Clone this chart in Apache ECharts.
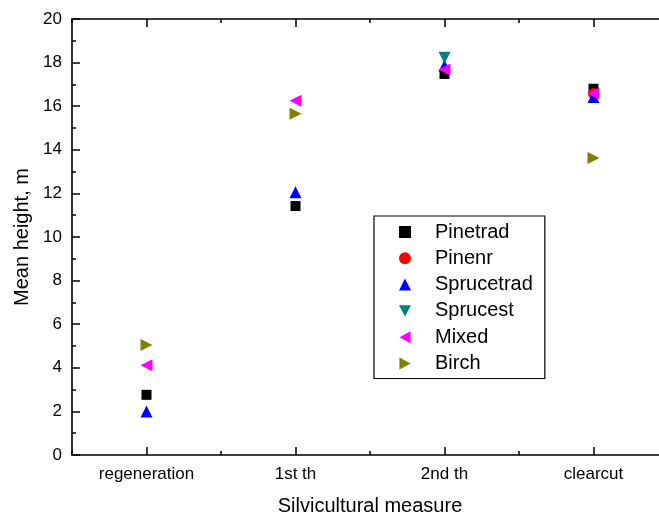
<!DOCTYPE html>
<html>
<head>
<meta charset="utf-8">
<script src="https://cdn.jsdelivr.net/npm/echarts@6/dist/echarts.min.js"></script>
<style>html,body{margin:0;padding:0;background:#fff;}#c{width:659px;height:521px;}</style>
</head>
<body>
<div id="c"></div>
<script>
const categories = ['regeneration', '1st th', '2nd th', 'clearcut'];
const pinetrad   = [2.76, 11.42, 17.48, 16.8];
const pinenr     = [null, null, null, 16.58];
const sprucetrad = [2.0, 12.05, 17.85, 16.42];
const sprucest   = [null, null, 18.22, null];
const mixed      = [4.12, 16.25, 17.68, 16.58];
const birch      = [5.05, 15.65, null, 13.62];
const yTicks = {min: 0, max: 20, interval: 2};

const font = 'Liberation Sans, Arial, sans-serif';
const chart = echarts.init(document.getElementById('c'));
const lineStyle = {color: '#000', width: 1.6};
function catAxis(pos, major, show) {
  return {
    type: 'category', data: categories, position: pos, boundaryGap: true,
    axisLine: {show: show, lineStyle: lineStyle},
    axisTick: {show: true, inside: true, alignWithLabel: major, length: major ? 8 : 4, lineStyle: {color: '#000', width: 1.5}},
    axisLabel: {show: pos === 'bottom' && major, color: '#000', fontSize: 17, fontFamily: font, margin: 11},
    splitLine: {show: false}
  };
}
const xAxes = [catAxis('bottom', true, true), catAxis('bottom', false, false), catAxis('top', true, true), catAxis('top', false, false)];
xAxes[0].name = 'Silvicultural measure';
xAxes[0].nameLocation = 'middle';
xAxes[0].nameGap = 41;
xAxes[0].nameTextStyle = {color: '#000', fontSize: 20, fontFamily: font};

const rotations = {Pinetrad: 0, Pinenr: 0, Sprucetrad: 0, Sprucest: 180, Mixed: 90, Birch: -90};
const legendIcons = {
  Pinetrad: 'path://M1,1L11,1L11,11L1,11Z', Pinenr: 'circle', Sprucetrad: 'triangle',
  Sprucest: 'path://M0,0L13,0L6.5,12Z', Mixed: 'path://M12,0L12,13L0,6.5Z', Birch: 'path://M0,0L12,6.5L0,13Z'
};
function mk(name, data, symbol, color, size) {
  return {
    name: name, type: 'scatter', data: data, symbol: symbol, symbolSize: size,
    symbolRotate: rotations[name], itemStyle: {color: color, opacity: 1}, xAxisIndex: 0, yAxisIndex: 0
  };
}
const legendNames = ['Pinetrad', 'Pinenr', 'Sprucetrad', 'Sprucest', 'Mixed', 'Birch'];

chart.setOption({
  animation: false,
  grid: {left: 72, top: 19, width: 596, height: 436, containLabel: false, outerBoundsMode: 'none'},
  xAxis: xAxes,
  yAxis: [{
    type: 'value', min: yTicks.min, max: yTicks.max, interval: yTicks.interval, position: 'left',
    name: 'Mean height, m', nameLocation: 'middle', nameGap: 40,
    nameTextStyle: {color: '#000', fontSize: 20, fontFamily: font},
    axisLine: {show: true, lineStyle: lineStyle},
    axisTick: {show: true, inside: true, length: 8, lineStyle: {color: '#000', width: 1.5}},
    minorTick: {show: true, splitNumber: 2, length: 4, lineStyle: {color: '#000', width: 1.5}},
    axisLabel: {color: '#000', fontSize: 17, fontFamily: font, margin: 10},
    splitLine: {show: false}, minorSplitLine: {show: false}
  }],
  legend: {
    orient: 'vertical', left: 374, top: 216,
    borderColor: '#000', borderWidth: 1.2, padding: [6, 12, 5, 25],
    itemWidth: 12, itemHeight: 12, itemGap: 6.3,
    textStyle: {color: '#000', fontSize: 20, fontFamily: font, padding: [0, 0, 0, 19]},
    data: legendNames.map(n => ({name: n, icon: legendIcons[n]}))
  },
  series: [
    mk('Pinetrad', pinetrad, 'rect', '#000000', 10),
    mk('Pinenr', pinenr, 'circle', '#ff0000', 11),
    mk('Sprucetrad', sprucetrad, 'triangle', '#0000ff', 12),
    mk('Sprucest', sprucest, 'triangle', '#008080', 12),
    mk('Mixed', mixed, 'triangle', '#ff00ff', 12),
    mk('Birch', birch, 'triangle', '#808000', 12)
  ]
});
</script>
</body>
</html>
